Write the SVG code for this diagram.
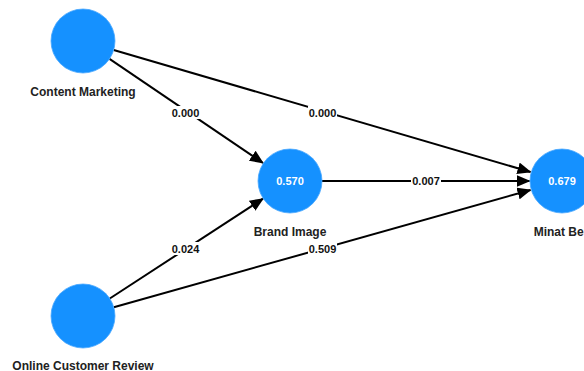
<svg xmlns="http://www.w3.org/2000/svg" width="584" height="371" viewBox="0 0 584 371">
<style>
.node{fill:#1591ff;stroke:#4aa8ff;stroke-width:0.8}
.nlabel{font-family:"Liberation Sans",Arial,sans-serif;font-size:12px;font-weight:bold;fill:#222;text-anchor:middle}
.val{font-family:"Liberation Sans",Arial,sans-serif;font-size:11px;font-weight:bold;fill:#fff;text-anchor:middle}
.edge{stroke:#000;stroke-width:2;fill:none;marker-end:url(#arr)}
.elabel{font-family:"Liberation Sans",Arial,sans-serif;font-size:11px;font-weight:bold;fill:#111;text-anchor:middle}
.lbg{fill:#fff}
</style>
<defs>
<marker id="arr" markerUnits="userSpaceOnUse" markerWidth="14" markerHeight="12" refX="13" refY="6" orient="auto">
<path d="M0,0 L14,6 L0,12 Z" fill="#000"/>
</marker>
</defs>
<rect width="584" height="371" fill="#fff"/>
<g id="connectors">
<line class="edge" x1="113.7" y1="50" x2="530.5" y2="172"/>
<line class="edge" x1="109.5" y1="58.9" x2="263" y2="163"/>
<line class="edge" x1="322" y1="181" x2="529.5" y2="181"/>
<line class="edge" x1="109.8" y1="298.5" x2="263" y2="198.7"/>
<line class="edge" x1="113.8" y1="307.3" x2="530.5" y2="190"/>
<rect class="lbg" x="308" y="106" width="29" height="13"/>
<text class="elabel" x="322.5" y="116.5">0.000</text>
<rect class="lbg" x="171" y="106" width="29" height="13"/>
<text class="elabel" x="185.5" y="116.5">0.000</text>
<rect class="lbg" x="411" y="175" width="30" height="13"/>
<text class="elabel" x="426" y="185">0.007</text>
<rect class="lbg" x="171" y="242" width="29" height="13"/>
<text class="elabel" x="185.5" y="252.5">0.024</text>
<rect class="lbg" x="308" y="242" width="29" height="13"/>
<text class="elabel" x="322.5" y="252.5">0.509</text>
</g>
<g id="node-content-marketing">
<circle class="node" cx="83" cy="41" r="32"/>
<text class="nlabel" x="83" y="96">Content Marketing</text>
</g>
<g id="node-brand-image">
<circle class="node" cx="290" cy="181" r="32"/>
<text class="val" x="290" y="185">0.570</text>
<text class="nlabel" x="290" y="236">Brand Image</text>
</g>
<g id="node-minat-beli">
<circle class="node" cx="562" cy="181" r="32"/>
<text class="val" x="562" y="185">0.679</text>
<text class="nlabel" x="562" y="236">Minat Beli</text>
</g>
<g id="node-online-customer-review">
<circle class="node" cx="83" cy="316" r="32"/>
<text class="nlabel" x="83" y="370">Online Customer Review</text>
</g>
</svg>
